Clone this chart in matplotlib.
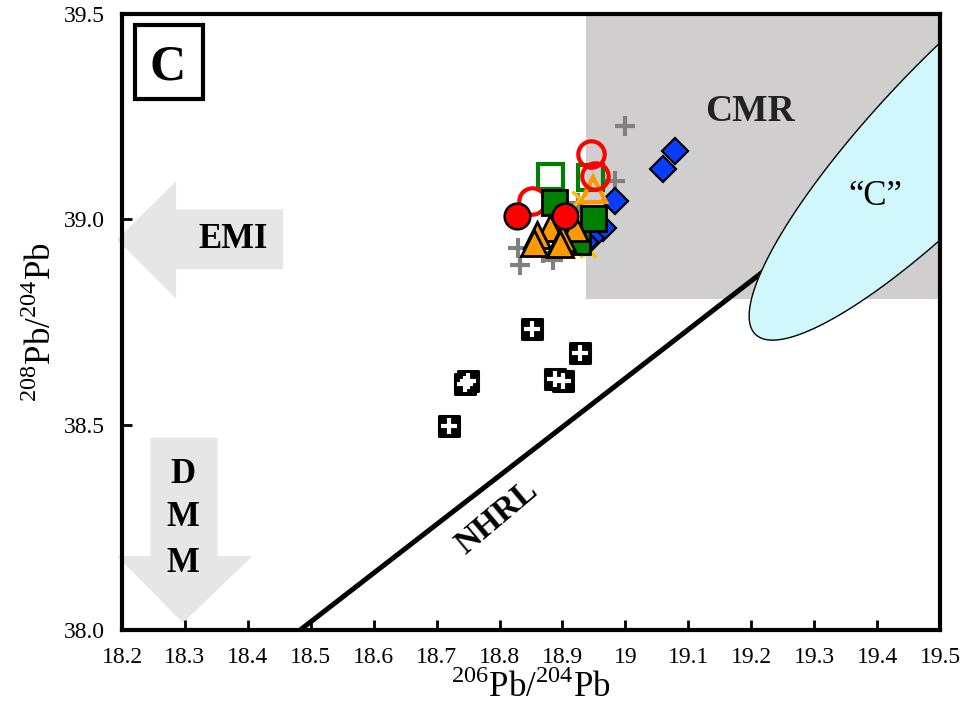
import numpy as np
import matplotlib
matplotlib.use('Agg')
import matplotlib.pyplot as plt
from matplotlib.patches import Rectangle, Polygon
from matplotlib.markers import MarkerStyle

plt.rcParams['font.family'] = 'Liberation Serif'
plt.rcParams['mathtext.fontset'] = 'custom'
plt.rcParams['mathtext.rm'] = 'Liberation Serif'

# data
grey_x = [19.000, 18.983, 18.830, 18.833, 18.869, 18.885, 18.925]
grey_y = [39.228, 39.093, 38.931, 38.890, 38.919, 38.902, 39.040]

yel_x = [18.941, 18.928]
yel_y = [38.927, 39.049]

blue_x = [19.079, 19.060, 18.983, 18.965, 18.946, 18.936]
blue_y = [39.167, 39.122, 39.045, 38.980, 38.955, 38.944]

blk_x = [18.851, 18.928, 18.750, 18.745, 18.888, 18.901, 18.719]
blk_y = [38.732, 38.675, 38.606, 38.598, 38.610, 38.606, 38.496]

gopen_x = [18.880, 18.944]
gopen_y = [39.106, 39.102]

ropen_x = [18.946, 18.952, 18.851]
ropen_y = [39.159, 39.106, 39.045]

topen_x = [18.949]
topen_y = [39.073]

gfill_x = [18.923, 18.886, 18.949]
gfill_y = [38.947, 39.041, 39.004]

tri_x = [18.880, 18.920, 18.859, 18.854, 18.899, 18.896]
tri_y = [38.980, 38.980, 38.963, 38.943, 38.955, 38.939]

rfill_x = [18.827, 18.904]
rfill_y = [39.008, 39.008]

nhrl_x = [18.483, 19.5]
nhrl_y = [38.0, 39.206]

# CMR field
cmr_x0, cmr_x1 = 18.937, 19.5
cmr_y0, cmr_y1 = 38.805, 39.5

# outline of the "C" field
ell_bx = [19.497, 19.452, 19.410, 19.325, 19.251, 19.206, 19.195, 19.198,
          19.214, 19.241, 19.261, 19.310, 19.378, 19.431, 19.497]
ell_by = [39.420, 39.359, 39.300, 39.122, 38.959, 38.854, 38.812, 38.780,
          38.727, 38.710, 38.712, 38.739, 38.805, 38.862, 38.946]

fig = plt.figure(figsize=(9.67, 7.24), dpi=100)
ax = fig.add_axes([0.1262, 0.1298, 0.8459, 0.8509])
ax.set_xlim(18.2, 19.5)
ax.set_ylim(38.0, 39.5)

ax.add_patch(Rectangle((cmr_x0, cmr_y0), cmr_x1 - cmr_x0, cmr_y1 - cmr_y0,
                       facecolor='#d0cecf', edgecolor='none', zorder=0))
ax.plot(nhrl_x, nhrl_y, color='black', lw=3.6, zorder=1, solid_capstyle='butt')

# fit a conic to the traced outline and fill it
x0, y0 = 19.35, 39.0
bu = np.array(ell_bx) - x0
bv = np.array(ell_by) - y0
M = np.column_stack([bu * bu, bu * bv, bv * bv, bu, bv])
coef = np.linalg.lstsq(M, np.ones(len(bu)), rcond=None)[0]
gx, gy = np.meshgrid(np.linspace(18.9, 19.9, 500), np.linspace(38.4, 39.9, 600))
gu, gv = gx - x0, gy - y0
F = coef[0] * gu * gu + coef[1] * gu * gv + coef[2] * gv * gv + coef[3] * gu + coef[4] * gv
ax.contourf(gx, gy, F, levels=[F.min() - 1, 1], colors=['#d0f8fc'], zorder=2)
ax.contour(gx, gy, F, levels=[1], colors='black', linewidths=1.0, zorder=2.1)

# EMI arrow (left) and DMM arrow (down)
emi = Polygon([[18.192, 38.951], [18.286, 39.093], [18.286, 39.024], [18.456, 39.024],
               [18.456, 38.878], [18.286, 38.878], [18.286, 38.807]],
              closed=True, facecolor='#e6e6e6', edgecolor='none', zorder=1, clip_on=False)
ax.add_patch(emi)
dmm = Polygon([[18.245, 38.468], [18.352, 38.468], [18.352, 38.180], [18.407, 38.180],
               [18.297, 38.017], [18.192, 38.180], [18.245, 38.180]],
              closed=True, facecolor='#e6e6e6', edgecolor='none', zorder=1, clip_on=False)
ax.add_patch(dmm)

ax.text(18.377, 38.951, 'EMI', fontsize=25, fontweight='bold', ha='center', va='center', zorder=3)
for lab, yy in zip(['D', 'M', 'M'], [38.378, 38.273, 38.163]):
    ax.text(18.297, yy, lab, fontsize=25, fontweight='bold', ha='center', va='center', zorder=3)
ax.text(19.198, 39.262, 'CMR', fontsize=27, fontweight='bold', color='#222222',
        ha='center', va='center', zorder=3)
ax.text(19.397, 39.055, '\u201cC\u201d', fontsize=25, ha='center', va='center', zorder=3)
ax.text(18.795, 38.275, 'NHRL', fontsize=24, fontweight='bold', rotation=40,
        ha='center', va='center', zorder=3)

# panel letter box
ax.add_patch(Rectangle((0.0159, 0.862), 0.083, 0.120, transform=ax.transAxes,
                       facecolor='white', edgecolor='black', lw=3, zorder=5))
ax.text(0.0556, 0.893, 'C', transform=ax.transAxes, fontsize=36, fontweight='bold',
        ha='center', va='baseline', zorder=6)

# markers
ax.plot(grey_x, grey_y, '+', color='#808080', ms=14, mew=3, ls='none', zorder=4)
ax.plot(yel_x, yel_y, 'x', color='#ffc000', ms=11, mew=2.5, ls='none', zorder=4)
ax.plot(blue_x, blue_y, 'D', color='#0a3cff', mec='black', ms=13, mew=1.6, ls='none', zorder=5)
ax.plot(blk_x, blk_y, marker=MarkerStyle('s', joinstyle='round'), color='black', mec='black',
        ms=15, mew=2.2, ls='none', zorder=5)
ax.plot(blk_x, blk_y, '+', color='white', ms=12, mew=3, ls='none', zorder=6)
ax.plot(gopen_x, gopen_y, 's', mfc='none', mec='#008000', ms=18, mew=3, ls='none', zorder=6)
ax.plot(topen_x, topen_y, '^', mfc='none', mec='#ff9900', ms=18, mew=3, ls='none', zorder=6)
ax.plot(ropen_x, ropen_y, 'o', mfc='none', mec='red', ms=19, mew=3, ls='none', zorder=7)
ax.plot(gfill_x, gfill_y, 's', color='#008000', mec='black', ms=18, mew=2, ls='none', zorder=8)
ax.plot(tri_x, tri_y, '^', color='#ff9900', mec='black', ms=19, mew=2, ls='none', zorder=9)
ax.plot(rfill_x, rfill_y, 'o', color='red', mec='black', ms=18.5, mew=1.8, ls='none', zorder=10)

ax.set_xticks(np.round(np.arange(18.2, 19.51, 0.1), 1))
ax.set_xticklabels(['18.2', '18.3', '18.4', '18.5', '18.6', '18.7', '18.8', '18.9', '19',
                    '19.1', '19.2', '19.3', '19.4', '19.5'])
ax.set_yticks([38.0, 38.5, 39.0, 39.5])
ax.set_yticklabels(['38.0', '38.5', '39.0', '39.5'])
ax.tick_params(direction='in', length=7, width=2, labelsize=17, pad=12)
for s in ax.spines.values():
    s.set_linewidth(3)
    s.set_zorder(20)

ax.set_xlabel('$^{206}$Pb/$^{204}$Pb', fontsize=25, labelpad=2)
ax.set_ylabel('$^{208}$Pb/$^{204}$Pb', fontsize=25, labelpad=4)

fig.savefig('out.png', dpi=100)
